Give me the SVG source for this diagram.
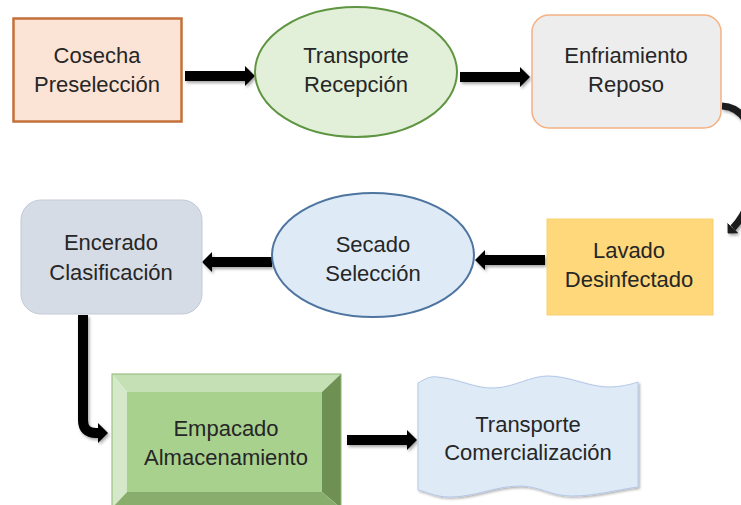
<svg xmlns="http://www.w3.org/2000/svg" width="741" height="505" viewBox="0 0 741 505">
<style>
.t{font-family:"Liberation Sans",Arial,sans-serif;font-size:22px;fill:#262626;text-anchor:middle}
.arr{fill:none;stroke:#000;stroke-width:10;marker-end:url(#ah)}
</style>
<defs>
<marker id="ah" viewBox="0 0 10 20" refX="0" refY="10" markerWidth="1" markerHeight="2" orient="auto" markerUnits="strokeWidth">
<path d="M0 0 L10 10 L0 20 Z" fill="#000"/>
</marker>
<marker id="ah2" viewBox="0 0 10 20" refX="0" refY="10" markerWidth="1.1" markerHeight="2.2" orient="auto" markerUnits="strokeWidth">
<path d="M0 0 L10 10 L0 20 Z" fill="#1f1f1f"/>
</marker>
<filter id="sh" x="-20%" y="-50%" width="140%" height="200%">
<feDropShadow dx="1.5" dy="2" stdDeviation="1.5" flood-color="#000" flood-opacity="0.35"/>
</filter>
<filter id="sh2" x="-10%" y="-10%" width="120%" height="130%">
<feDropShadow dx="1.5" dy="1.5" stdDeviation="1.2" flood-color="#000" flood-opacity="0.3"/>
</filter>
</defs>
<rect width="741" height="505" fill="#fff"/>

<g id="connectors" filter="url(#sh)">
<line class="arr" x1="185" y1="76" x2="245" y2="76"/>
<line class="arr" x1="460" y1="77" x2="520" y2="77"/>
<path d="M722 106 C765 108 766 194 733 228" fill="none" stroke="#1f1f1f" stroke-width="7" marker-end="url(#ah2)"/>
<line class="arr" x1="545" y1="260" x2="485" y2="260"/>
<line class="arr" x1="272" y1="262" x2="212" y2="262"/>
<path class="arr" d="M83 315 L83 420 Q83 433 96 433 L98 433"/>
<line class="arr" x1="347" y1="440" x2="407" y2="440"/>
</g>

<g id="cosecha">
<rect x="13.5" y="18.5" width="168" height="103" fill="#fbe4d5" stroke="#c4703a" stroke-width="2.5"/>
<text class="t" x="97" y="63">Cosecha</text>
<text class="t" x="97" y="92">Preselección</text>
</g>

<g id="transporte-recepcion">
<ellipse cx="356" cy="72" rx="101" ry="65" fill="#e2efd9" stroke="#5e9540" stroke-width="2"/>
<text class="t" x="356" y="63">Transporte</text>
<text class="t" x="356" y="92">Recepción</text>
</g>

<g id="enfriamiento">
<rect x="532" y="15" width="189" height="113" rx="17" fill="#ededed" stroke="#f4b183" stroke-width="1.5"/>
<text class="t" x="626" y="63">Enfriamiento</text>
<text class="t" x="626" y="92">Reposo</text>
</g>

<g id="lavado">
<rect x="547" y="219" width="166" height="96" fill="#fed87a" stroke="#f8cf72" stroke-width="1"/>
<text class="t" x="629" y="258">Lavado</text>
<text class="t" x="629" y="287">Desinfectado</text>
</g>

<g id="secado">
<ellipse cx="373" cy="255" rx="101" ry="62" fill="#deebf7" stroke="#4e74a0" stroke-width="2"/>
<text class="t" x="373" y="252">Secado</text>
<text class="t" x="373" y="281">Selección</text>
</g>

<g id="encerado">
<rect x="21" y="200" width="181" height="114" rx="20" fill="#d6dce5" stroke="#c3cad5" stroke-width="1"/>
<text class="t" x="111" y="250">Encerado</text>
<text class="t" x="111" y="280">Clasificación</text>
</g>

<g id="empacado">
<rect x="127" y="392" width="195" height="100" fill="#a9d18e"/>
<polygon points="112,374 341,374 322,392 127,392" fill="#c5e0b4"/>
<polygon points="112,374 127,392 127,492 112,508" fill="#d5e8c9"/>
<polygon points="341,374 341,508 322,492 322,392" fill="#6e9153"/>
<polygon points="112,508 127,492 322,492 341,508" fill="#88ad6c"/>
<rect x="112" y="374" width="229" height="134" fill="none" stroke="#8cb870" stroke-width="1"/>
<text class="t" x="226" y="436">Empacado</text>
<text class="t" x="226" y="465">Almacenamiento</text>
</g>

<g id="transporte-comercializacion">
<path filter="url(#sh2)" d="M418 383 C425 379 430 376 437 377 C460 379 475 389 495 388 C515 387 530 376 548 376 C570 376 590 388 612 387 C625 386 632 384 638 382 L638 487 C615 490 595 496 572 496 C550 496 540 486 520 486 C495 486 475 497 450 497 C435 497 428 492 418 490 Z" fill="#deebf7" stroke="#b4c7e7" stroke-width="1"/>
<text class="t" x="528" y="432">Transporte</text>
<text class="t" x="528" y="460">Comercialización</text>
</g>
</svg>
